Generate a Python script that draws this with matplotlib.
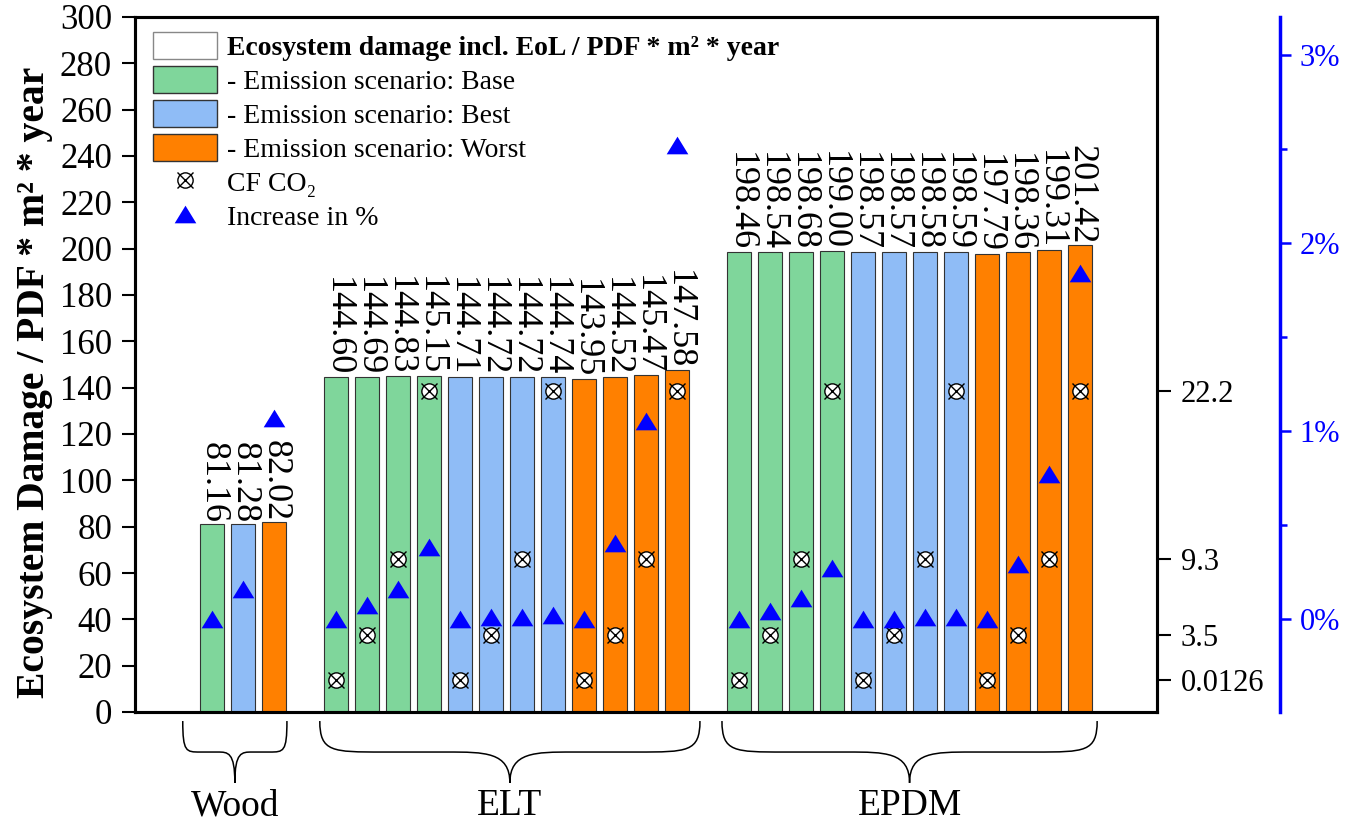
import numpy as np
import matplotlib
matplotlib.use('Agg')
import matplotlib.pyplot as plt
import matplotlib.transforms as mtransforms
from matplotlib.path import Path
from matplotlib.patches import PathPatch, Patch
from matplotlib.lines import Line2D
from matplotlib.legend_handler import HandlerTuple

plt.rcParams['font.family'] = ['Liberation Serif', 'DejaVu Serif']

# data
groups = ['Wood', 'ELT', 'EPDM']
group_sizes = [3, 12, 12]
scenario = (['Base', 'Best', 'Worst']
            + ['Base'] * 4 + ['Best'] * 4 + ['Worst'] * 4
            + ['Base'] * 4 + ['Best'] * 4 + ['Worst'] * 4)
damage = [81.16, 81.28, 82.02,
          144.60, 144.69, 144.83, 145.15,
          144.71, 144.72, 144.72, 144.74,
          143.95, 144.52, 145.47, 147.58,
          198.46, 198.54, 198.68, 199.00,
          198.57, 198.57, 198.58, 198.59,
          197.79, 198.36, 199.31, 201.42]
cf_co2 = [np.nan, np.nan, np.nan,
          0.0126, 3.5, 9.3, 22.2,
          0.0126, 3.5, 9.3, 22.2,
          0.0126, 3.5, 9.3, 22.2,
          0.0126, 3.5, 9.3, 22.2,
          0.0126, 3.5, 9.3, 22.2,
          0.0126, 3.5, 9.3, 22.2]
increase_pct = [0.00, 0.16, 1.07,
                0.00, 0.07, 0.16, 0.38,
                0.00, 0.01, 0.01, 0.02,
                0.00, 0.40, 1.05, 2.52,
                0.00, 0.04, 0.11, 0.27,
                0.00, 0.00, 0.01, 0.01,
                0.00, 0.29, 0.77, 1.84]
cf_ticks = [0.0126, 3.5, 9.3, 22.2]
cf_ticklabels = ['0.0126', '3.5', '9.3', '22.2']
pct_ticks = [0, 1, 2, 3]
pct_ticklabels = ['0%', '1%', '2%', '3%']

scen_colors = {'Base': '#7fd69b', 'Best': '#8fbcf6', 'Worst': '#ff8000'}
scen_labels = ['- Emission scenario: Base', '- Emission scenario: Best',
               '- Emission scenario: Worst']

# bar positions: groups separated by one empty slot
pos = []
start = 0
for n in group_sizes:
    pos.extend(range(start, start + n))
    start += n + 1
pos = np.array(pos)

W, H = 1359, 823
fig = plt.figure(figsize=(W / 100, H / 100), dpi=100)
ax = fig.add_axes([135 / W, 1 - 712 / H, (1157 - 135) / W, (712 - 17) / H])

ax.bar(pos, damage, width=0.78, color=[scen_colors[s] for s in scenario],
       edgecolor='#333333', linewidth=0.8, zorder=2)
for x, v in zip(pos, damage):
    ax.text(x + 0.04, v + 0.3, f'{v:.2f}', rotation=270, ha='center', va='bottom',
            fontsize=26, zorder=3)

ax.set_xlim(-2.48, 30.48)
ax.set_ylim(0, 300)
ax.set_yticks(range(0, 301, 20))
ax.set_xticks([])
ax.tick_params(axis='y', length=9.5, width=1.5, labelsize=25, pad=7)
for sp in ax.spines.values():
    sp.set_linewidth(2.2)

# CF CO2 axis
ax2 = ax.twinx()
ax2.set_ylim(-2.445, 50.93)
ax2.set_yticks(cf_ticks)
ax2.set_yticklabels(cf_ticklabels)
ax2.tick_params(axis='y', length=10, width=1.5, labelsize=22, pad=7)
for sp in ax2.spines.values():
    sp.set_linewidth(2.2)
ax2.plot(pos, cf_co2, 'o', ms=11, mfc='white', mec='black', mew=1, zorder=3)
ax2.plot(pos, cf_co2, 'x', ms=11, color='black', mew=1, zorder=4)

# increase axis
tri = [(-1, -0.815), (1, -0.815), (0, 0.815)]
ax3 = ax.twinx()
ax3.spines['right'].set_position(('axes', (1280 - 135) / (1157 - 135)))
for k in ['top', 'left', 'bottom']:
    ax3.spines[k].set_visible(False)
ax3.spines['right'].set_color('blue')
ax3.spines['right'].set_linewidth(2.5)
ax3.set_ylim(-0.4976, 3.2035)
ax3.set_yticks(pct_ticks)
ax3.set_yticklabels(pct_ticklabels)
ax3.set_yticks([0.5, 1.5, 2.5], minor=True)
ax3.tick_params(axis='y', which='major', length=8, width=1.8, colors='blue',
                labelsize=22, pad=6)
ax3.tick_params(axis='y', which='minor', length=5, width=1.8, colors='blue')
ax3.plot(pos, increase_pct, ls='', marker=tri, ms=15.6, color='blue', mew=0, zorder=5)

# legend
handles = [Patch(facecolor='white', edgecolor='#888888', linewidth=1)]
handles += [Patch(facecolor=scen_colors[s], edgecolor='#333333', linewidth=1)
            for s in ['Base', 'Best', 'Worst']]
handles.append((Line2D([], [], marker='o', ls='', ms=11, mfc='white', mec='black', mew=1),
                Line2D([], [], marker='x', ls='', ms=11, color='black', mew=1)))
handles.append(Line2D([], [], marker=tri, ls='', ms=15.6, color='blue', mew=0))
labels = ['Ecosystem damage incl. EoL / PDF * m² * year'] + scen_labels + ['CF CO₂', 'Increase in %']
leg = ax3.legend(handles, labels, loc='upper left', bbox_to_anchor=(0.0176, 0.978),
                 frameon=False, fontsize=20, handlelength=2.3, handleheight=1.1,
                 handletextpad=0.35, labelspacing=0.19, borderpad=0, borderaxespad=0,
                 handler_map={tuple: HandlerTuple(ndivide=1)})
leg.get_texts()[0].set_fontweight('bold')

fig.text(35 / W, 1 - 382 / H, 'Ecosystem Damage / PDF * m² * year', rotation=90,
         ha='center', va='center', fontsize=28.5, fontweight='bold')

# curly braces under the groups
brace_spans = [(-0.94, 2.42), (3.48, 15.74), (16.45, 28.55)]
trans = mtransforms.blended_transform_factory(ax.transData, ax.transAxes)
ytop, ymid, ybot = -0.013, -0.0576, -0.102
for (x0, x1), name in zip(brace_spans, groups):
    xc = (x0 + x1) / 2
    h = (x1 - x0) / 2
    e = 0.33 * h
    verts = [(x0, ytop),
             (x0, ymid), (x0 + 0.2 * e, ymid), (x0 + e, ymid),
             (xc - e, ymid),
             (xc - 0.4 * e, ymid), (xc, ymid), (xc, ybot),
             (xc, ymid), (xc + 0.4 * e, ymid), (xc + e, ymid),
             (x1 - e, ymid),
             (x1 - 0.2 * e, ymid), (x1, ymid), (x1, ytop)]
    codes = ([Path.MOVETO] + [Path.CURVE4] * 3 + [Path.LINETO] + [Path.CURVE4] * 3
             + [Path.CURVE4] * 3 + [Path.LINETO] + [Path.CURVE4] * 3)
    ax.add_patch(PathPatch(Path(verts, codes), fc='none', ec='black', lw=1.1,
                           transform=trans, clip_on=False))
    ax.text(xc, -0.135, name, transform=trans, ha='center', va='center', fontsize=27)

fig.savefig('out.png', dpi=100)
